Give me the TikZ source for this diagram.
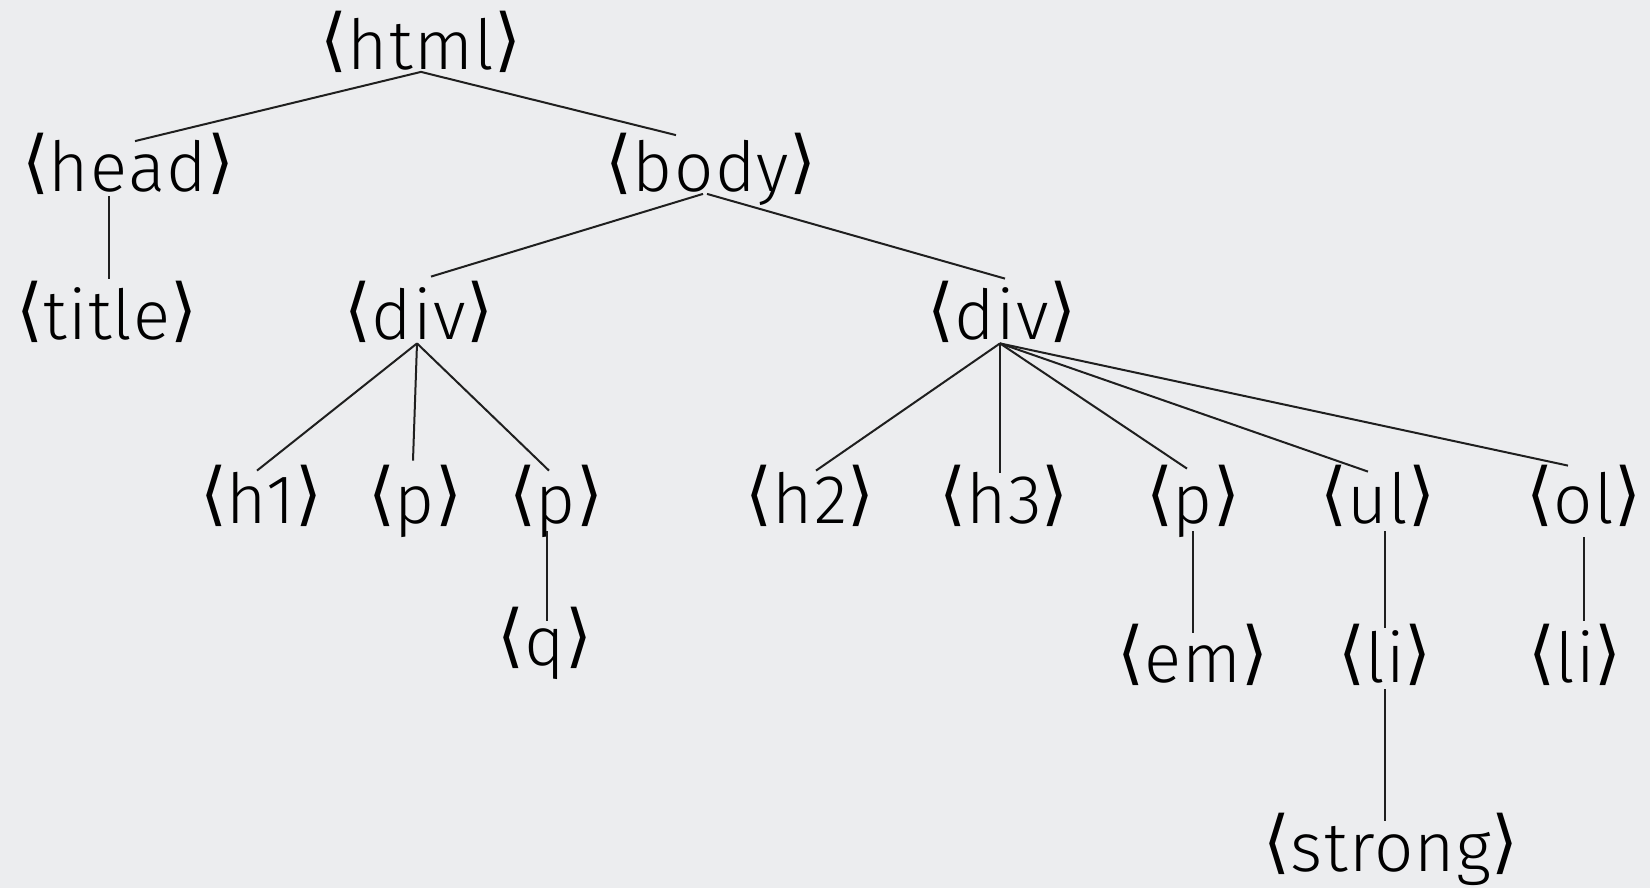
\documentclass[tikz,border=0pt]{standalone}
\usepackage{fontspec}
\setmainfont{Fira Sans Light}[LetterSpace=2]
\newfontfamily\brfont{DejaVu Sans}
\newcommand\tg[1]{\raisebox{3pt}{\brfont ⟨}#1\raisebox{3pt}{\brfont ⟩}}
\definecolor{bgcol}{RGB}{236,237,239}
\begin{document}
\begin{tikzpicture}[x=0.5pt,y=-0.5pt]
\tikzset{
  tag/.style={font=\fontsize{34.5}{38}\selectfont, inner sep=0pt, text height=25pt, text depth=0pt, anchor=base},
  conn/.style={line width=1pt, black!88}
}
\fill[bgcol] (0,0) rectangle (1650,888);
\useasboundingbox (0,0) rectangle (1650,888);
% level 0-2
\node[tag] (html) at (421,69.5) {\tg{html}};
\node[tag] (head) at (128,191.5) {\tg{head}};
\node[tag] (body) at (711,191.5) {\tg{body}};
\node[tag] (title) at (107,339) {\tg{title}};
\node[tag] (diva) at (419,339) {\tg{div}};
\node[tag] (divb) at (1002,339) {\tg{div}};
% level 3
\node[tag] (hone) at (261,523) {\tg{h1}};
\node[tag] (pa) at (415,523) {\tg{p}};
\node[tag] (pb) at (556,523) {\tg{p}};
\node[tag] (htwo) at (810,523) {\tg{h2}};
\node[tag] (hthree) at (1004,523) {\tg{h3}};
\node[tag] (pc) at (1193,523) {\tg{p}};
\node[tag] (ul) at (1378,523) {\tg{ul}};
\node[tag] (ol) at (1584,523) {\tg{ol}};
% level 4-5
\node[tag] (q) at (545,665) {\tg{q}};
\node[tag] (em) at (1193,682) {\tg{em}};
\node[tag] (lia) at (1385,682) {\tg{li}};
\node[tag] (lib) at (1575,682) {\tg{li}};
\node[tag] (strong) at (1391,871) {\tg{strong}};
% connectors
\draw[conn] ([yshift=-1pt]html.south) -- ([xshift=3.5pt,yshift=-0pt]head.north);
\draw[conn] ([yshift=-1pt]html.south) -- ([xshift=-17.5pt,yshift=3pt]body.north);
\draw[conn] ([xshift=-9.5pt,yshift=-2pt]head.south) -- ([xshift=1pt,yshift=5pt]title.north);
\draw[conn] ([xshift=-4pt,yshift=-1pt]body.south) -- ([xshift=6pt,yshift=6pt]diva.north);
\draw[conn] ([xshift=-2pt,yshift=-1pt]body.south) -- ([xshift=1.5pt,yshift=5pt]divb.north);
\draw[conn] ([xshift=-1pt,yshift=-2pt]diva.south) -- ([xshift=-2pt,yshift=1pt]hone.north);
\draw[conn] ([xshift=-1pt,yshift=-2pt]diva.south) -- ([xshift=-1pt,yshift=6pt]pa.north);
\draw[conn] ([xshift=-1pt,yshift=-2pt]diva.south) -- ([xshift=-3.5pt,yshift=1pt]pb.north);
\draw[conn] ([xshift=-1pt,yshift=-2pt]divb.south) -- ([xshift=3pt,yshift=1pt]htwo.north);
\draw[conn] ([xshift=-1pt,yshift=-2pt]divb.south) -- ([xshift=-2pt,yshift=0pt]hthree.north);
\draw[conn] ([xshift=-1pt,yshift=-2pt]divb.south) -- ([xshift=-3pt,yshift=2pt]pc.north);
\draw[conn] ([xshift=-1pt,yshift=-2pt]divb.south) -- ([xshift=-5pt,yshift=0.5pt]ul.north);
\draw[conn] ([xshift=-1pt,yshift=-2pt]divb.south) -- ([xshift=-8pt,yshift=3.5pt]ol.north);
\draw[conn] ([xshift=-4.5pt,yshift=-4pt]pb.south) -- ([xshift=1pt,yshift=-3pt]q.north);
\draw[conn] ([yshift=-4pt]pc.south) -- ([yshift=-0.5pt]em.north);
\draw[conn] ([xshift=3.5pt,yshift=-4pt]ul.south) -- ([yshift=2pt]lia.north);
\draw[conn] ([yshift=-7pt]ol.south) -- ([xshift=4.5pt,yshift=5.5pt]lib.north);
\draw[conn] ([yshift=-3.5pt]lia.south) -- ([xshift=-3pt]strong.north);
\end{tikzpicture}
\end{document}
